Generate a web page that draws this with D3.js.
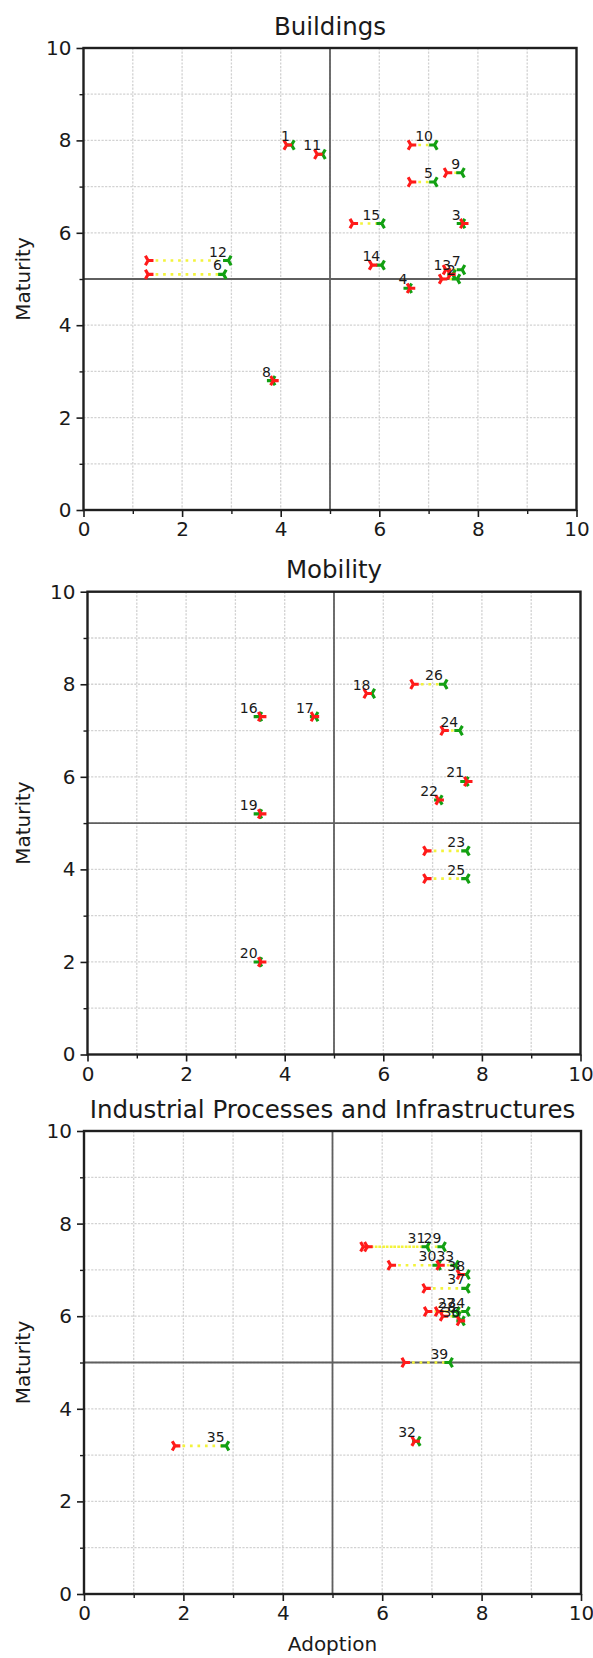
<!DOCTYPE html>
<html>
<head>
<meta charset="utf-8">
<script src="https://cdn.jsdelivr.net/npm/d3@7"></script>
<style>
  body { margin: 0; background: #fff; }
  svg { display: block; }
  text { font-family: "DejaVu Sans", "Liberation Sans", sans-serif; fill: #1a1a1a; }
</style>
</head>
<body>
<svg id="chart" width="593" height="1658"></svg>
<script>
// ---- Buildings ----
const buildingsIds      = [1, 2, 3, 4, 5, 6, 7, 8, 9, 10, 11, 12, 13, 14, 15];
const buildingsFrom     = [4.12, 7.27, 7.70, 6.62, 6.64, 1.31, 7.35, 3.85, 7.37, 6.64, 4.74, 1.31, 7.44, 5.85, 5.46];
const buildingsTo       = [4.22, 7.58, 7.68, 6.60, 7.12, 2.84, 7.68, 3.83, 7.67, 7.12, 4.85, 2.94, 7.49, 6.05, 6.05];
const buildingsMaturity = [7.9, 5.0, 6.2, 4.8, 7.1, 5.1, 5.2, 2.8, 7.3, 7.9, 7.7, 5.4, 5.1, 5.3, 6.2];

// ---- Mobility ----
const mobilityIds      = [16, 17, 18, 19, 20, 21, 22, 23, 24, 25, 26];
const mobilityFrom     = [3.52, 4.59, 5.66, 3.52, 3.52, 7.70, 7.12, 6.87, 7.22, 6.87, 6.61];
const mobilityTo       = [3.48, 4.62, 5.77, 3.48, 3.48, 7.67, 7.14, 7.69, 7.55, 7.69, 7.24];
const mobilityMaturity = [7.3, 7.3, 7.8, 5.2, 2.0, 5.9, 5.5, 4.4, 7.0, 3.8, 8.0];

// ---- Industrial Processes and Infrastructures ----
const industryIds      = [27, 28, 29, 30, 31, 32, 33, 34, 35, 36, 37, 38, 39];
const industryFrom     = [6.90, 7.22, 5.70, 6.17, 5.62, 6.65, 7.15, 7.12, 1.83, 7.56, 6.87, 7.56, 6.45];
const industryTo       = [7.50, 7.52, 7.22, 7.12, 6.90, 6.71, 7.48, 7.70, 2.86, 7.60, 7.70, 7.70, 7.36];
const industryMaturity = [6.1, 6.0, 7.5, 7.1, 7.5, 3.3, 7.1, 6.1, 3.2, 5.9, 6.6, 6.9, 5.0];

// ---- Axes ----
const axisDomain  = [0, 10];
const majorTicks  = [0, 2, 4, 6, 8, 10];
const tickLabels  = ["0", "2", "4", "6", "8", "10"];
const minorTicks  = [1, 3, 5, 7, 9];
const gridValues  = [1, 2, 3, 4, 5, 6, 7, 8, 9];
const quadrantAt  = 5;

const svg = d3.select("#chart");
svg.append("rect").attr("width", 593).attr("height", 1658).attr("fill", "#fff");

const panels = [
  { title: "Buildings", ids: buildingsIds, from: buildingsFrom, to: buildingsTo, maturity: buildingsMaturity,
    left: 83.5, right: 576.5, top: 48, bottom: 510, xlabel: false },
  { title: "Mobility", ids: mobilityIds, from: mobilityFrom, to: mobilityTo, maturity: mobilityMaturity,
    left: 87.5, right: 580.5, top: 591.7, bottom: 1054.5, xlabel: false },
  { title: "Industrial Processes and Infrastructures", ids: industryIds, from: industryFrom, to: industryTo, maturity: industryMaturity,
    left: 84, right: 581, top: 1131, bottom: 1594, xlabel: true }
];

// tri markers: three arms from the centre
const R = 5.4;
const s3 = Math.sqrt(3) / 2;
const triRight = `M0,0L${R},0M0,0L${-R/2},${-R*s3}M0,0L${-R/2},${R*s3}`;
const triLeft  = `M0,0L${-R},0M0,0L${R/2},${-R*s3}M0,0L${R/2},${R*s3}`;

panels.forEach(p => {
  const x = d3.scaleLinear().domain(axisDomain).range([p.left, p.right]);
  const y = d3.scaleLinear().domain(axisDomain).range([p.bottom, p.top]);
  const g = svg.append("g");

  // grid
  g.append("g").selectAll("line.vg").data(gridValues).join("line")
    .attr("x1", d => x(d)).attr("x2", d => x(d))
    .attr("y1", p.top).attr("y2", p.bottom)
    .attr("stroke", "#d2d2d2").attr("stroke-width", 1.3).attr("stroke-dasharray", "2.2,1.4");
  g.append("g").selectAll("line.hg").data(gridValues).join("line")
    .attr("y1", d => y(d)).attr("y2", d => y(d))
    .attr("x1", p.left).attr("x2", p.right)
    .attr("stroke", "#d2d2d2").attr("stroke-width", 1.3).attr("stroke-dasharray", "2.2,1.4");

  // quadrant dividers
  g.append("line").attr("x1", x(quadrantAt)).attr("x2", x(quadrantAt))
    .attr("y1", p.top).attr("y2", p.bottom).attr("stroke", "#5f5f5f").attr("stroke-width", 1.8);
  g.append("line").attr("y1", y(quadrantAt)).attr("y2", y(quadrantAt))
    .attr("x1", p.left).attr("x2", p.right).attr("stroke", "#5f5f5f").attr("stroke-width", 1.8);

  // axes with major and minor ticks
  const styleAxis = (sel) => {
    sel.select(".domain").remove();
    sel.selectAll(".tick line").attr("stroke", "#1a1a1a").attr("stroke-width", 1.6);
    sel.selectAll(".tick text").attr("font-size", 20).attr("fill", "#1a1a1a")
      .style("font-family", '"DejaVu Sans", sans-serif');
  };
  const xAxis = d3.axisBottom(x).tickValues(majorTicks).tickFormat((d, i) => tickLabels[i]).tickSize(7).tickPadding(5);
  const yAxis = d3.axisLeft(y).tickValues(majorTicks).tickFormat((d, i) => tickLabels[i]).tickSize(7).tickPadding(5);
  g.append("g").attr("transform", `translate(0,${p.bottom})`).call(xAxis).call(styleAxis);
  g.append("g").attr("transform", `translate(${p.left},0)`).call(yAxis).call(styleAxis);
  g.append("g").attr("transform", `translate(0,${p.bottom})`)
    .call(d3.axisBottom(x).tickValues(minorTicks).tickSize(4).tickFormat(""))
    .call(sel => { sel.select(".domain").remove(); sel.selectAll(".tick line").attr("stroke", "#1a1a1a").attr("stroke-width", 1.4); });
  g.append("g").attr("transform", `translate(${p.left},0)`)
    .call(d3.axisLeft(y).tickValues(minorTicks).tickSize(4).tickFormat(""))
    .call(sel => { sel.select(".domain").remove(); sel.selectAll(".tick line").attr("stroke", "#1a1a1a").attr("stroke-width", 1.4); });

  // frame
  g.append("rect").attr("x", p.left).attr("y", p.top)
    .attr("width", p.right - p.left).attr("height", p.bottom - p.top)
    .attr("fill", "none").attr("stroke", "#1f1f1f").attr("stroke-width", 2.4);

  // title and axis labels
  g.append("text").attr("x", (p.left + p.right) / 2).attr("y", p.top - 13.5)
    .attr("text-anchor", "middle").attr("font-size", 24.5).text(p.title);
  g.append("text")
    .attr("transform", `translate(30,${(p.top + p.bottom) / 2}) rotate(-90)`)
    .attr("text-anchor", "middle").attr("font-size", 20).text("Maturity");
  if (p.xlabel) {
    g.append("text").attr("x", (p.left + p.right) / 2).attr("y", p.bottom + 57)
      .attr("text-anchor", "middle").attr("font-size", 20).text("Adoption");
  }

  const pts = p.ids.map((id, i) => ({ id, from: p.from[i], to: p.to[i], m: p.maturity[i] }));

  // dotted connectors
  g.append("g").selectAll("line").data(pts).join("line")
    .attr("x1", d => x(d.from)).attr("x2", d => x(d.to))
    .attr("y1", d => y(d.m)).attr("y2", d => y(d.m))
    .attr("stroke", "#f3f33c").attr("stroke-width", 2.6).attr("stroke-dasharray", "2.7,4.8");

  // later position (green, tri-left) then earlier position (red, tri-right)
  g.append("g").selectAll("path").data(pts).join("path")
    .attr("d", triLeft).attr("transform", d => `translate(${x(d.to)},${y(d.m)})`)
    .attr("fill", "none").attr("stroke", "#12a012").attr("stroke-width", 3.1).attr("stroke-linecap", "butt");
  g.append("g").selectAll("path").data(pts).join("path")
    .attr("d", triRight).attr("transform", d => `translate(${x(d.from)},${y(d.m)})`)
    .attr("fill", "none").attr("stroke", "#ff1a1a").attr("stroke-width", 3.1).attr("stroke-linecap", "butt");

  // point numbers
  g.append("g").selectAll("text").data(pts).join("text")
    .attr("x", d => x(d.to) - 1.5).attr("y", d => y(d.m) - 4)
    .attr("text-anchor", "end").attr("font-size", 14).attr("fill", "#262626")
    .text(d => d.id);
});
</script>
</body>
</html>
